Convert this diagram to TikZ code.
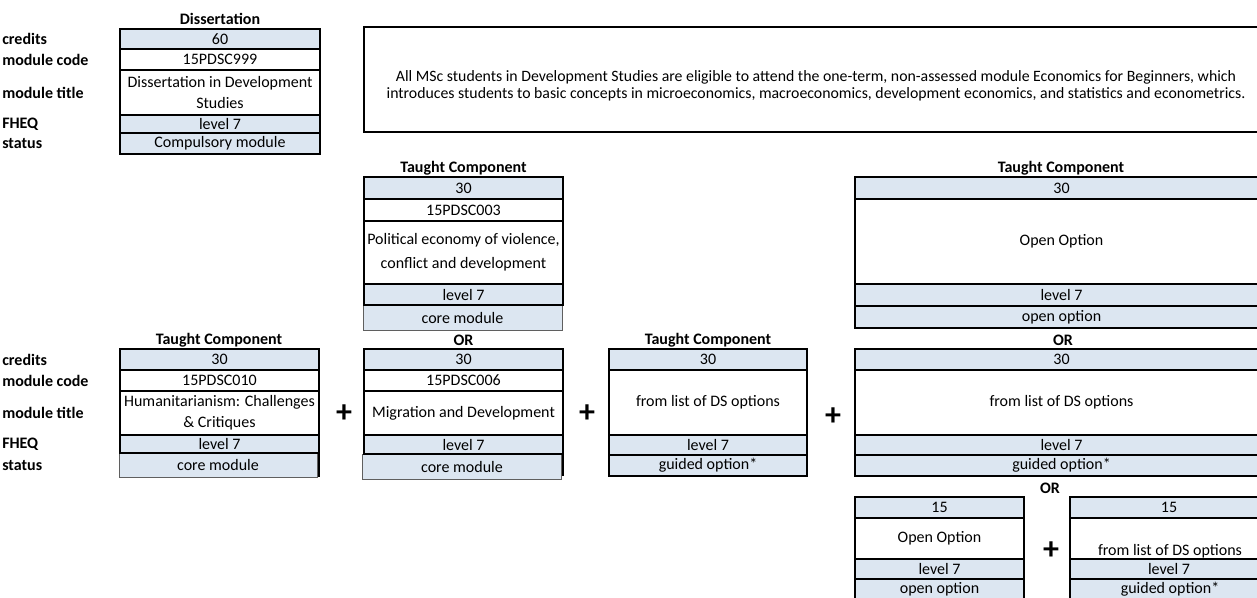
\documentclass[tikz,border=0pt]{standalone}
\usepackage{fontspec}
\setmainfont{Carlito}
\definecolor{lb}{RGB}{220,230,241}
\definecolor{thingray}{RGB}{95,95,95}
\newcommand\cellbox[7]{%
  \pgfmathsetmacro\cbx{(#2+#4)/2}%
  \pgfmathsetmacro\cby{(#3+#5)/2}%
  \pgfmathsetmacro\cbw{(#4-#2)*0.75}%
  \pgfmathsetmacro\cbh{(#5-#3)*0.75}%
  \node[#6, minimum width=\cbw pt, minimum height=\cbh pt] (#1) at (\cbx,\cby) {#7};}
\begin{document}
\begin{tikzpicture}[x=0.75pt,y=-0.75pt,
  every node/.style={font=\fontsize{12}{14}\selectfont},
  cellbase/.style={inner sep=0pt, align=center, draw=black, line width=1.5pt},
  bluecell/.style={cellbase, fill=lb},
  whitecell/.style={cellbase, fill=white},
  graycell/.style={inner sep=0pt, align=center, draw=thingray, line width=0.6pt, fill=lb},
  hdr/.style={font=\fontsize{12}{14}\selectfont\bfseries, inner sep=0pt},
  rowlbl/.style={font=\fontsize{12}{14}\selectfont\bfseries, anchor=west, inner sep=0pt},
  plus/.style={font=\fontsize{24}{24}\selectfont\bfseries, inner sep=0pt},
  txt/.style={inner sep=0pt, align=center}]
\useasboundingbox (0,0) rectangle (1257,597);

% ---------- Dissertation ----------
\node[hdr] (dT) at (220,19) {Dissertation};
\cellbox{d1}{120}{29}{320}{49}{bluecell}{60}
\cellbox{d2}{120}{49}{320}{70}{whitecell}{15PDSC999}
\cellbox{d3}{120}{70}{320}{115}{whitecell,font=\fontsize{12}{16.3}\selectfont}{Dissertation in Development\\Studies}
\cellbox{d4}{120}{115}{320}{133}{bluecell}{level 7}
\cellbox{d5}{120}{133}{320}{154}{bluecell}{Compulsory module}
\node[rowlbl] (l1) at (2,39) {credits};
\node[rowlbl] (l2) at (2,59.5) {module code};
\node[rowlbl] (l3) at (2,92.5) {module title};
\node[rowlbl] (l4) at (2,124) {FHEQ};
\node[rowlbl] (l5) at (2,143.5) {status};

% ---------- Note box ----------
\cellbox{note}{364}{27}{1268}{132}{whitecell}{}
\node[txt, font=\fontsize{11.85}{12.4}\selectfont] (notetxt) at (816,86) {All MSc students in Development Studies are eligible to attend the one-term, non-assessed module Economics for Beginners, which\\introduces students to basic concepts in microeconomics, macroeconomics, development economics, and statistics and econometrics.};

% ---------- Political economy block ----------
\node[hdr] (b1T) at (463.5,168) {Taught Component};
\cellbox{b1e}{363}{305}{562}{330}{graycell}{core module}
\cellbox{b1a}{364}{177}{563}{199}{bluecell}{30}
\cellbox{b1b}{364}{199}{563}{221}{whitecell}{15PDSC003}
\cellbox{b1c}{364}{221}{563}{284}{whitecell,font=\fontsize{12}{18}\selectfont}{Political economy of violence,\\conflict and development}
\cellbox{b1d}{364}{284}{563}{305}{bluecell}{level 7}

% ---------- Open option block ----------
\node[hdr] (d1T) at (1061,168) {Taught Component};
\cellbox{o1a}{855}{177}{1268}{199}{bluecell}{30}
\cellbox{o1b}{855}{199}{1268}{284}{whitecell}{Open Option}
\cellbox{o1c}{855}{284}{1268}{306}{bluecell}{level 7}
\cellbox{o1d}{855}{306}{1268}{328}{bluecell}{open option}

% ---------- Humanitarianism block ----------
\node[hdr] (a2T) at (219,340) {Taught Component};
\cellbox{a2e}{119}{453}{317}{477}{graycell}{core module}
\cellbox{a2a}{120}{349}{319}{370}{bluecell}{30}
\cellbox{a2b}{120}{370}{319}{391}{whitecell}{15PDSC010}
\cellbox{a2c}{120}{391}{319}{435}{whitecell,font=\fontsize{12}{16}\selectfont}{Humanitarianism: Challenges\\\& Critiques}
\cellbox{a2d}{120}{435}{319}{453}{bluecell}{level 7}
\coordinate (a2r1) at (319,453);
\coordinate (a2r2) at (319,477);
\draw[line width=1.5pt] (a2r1) -- (a2r2);
\node[rowlbl] (m1) at (2,359.5) {credits};
\node[rowlbl] (m2) at (2,380.5) {module code};
\node[rowlbl] (m3) at (2,413) {module title};
\node[rowlbl] (m4) at (2,444.5) {FHEQ};
\node[rowlbl] (m5) at (2,465.5) {status};

% ---------- Migration block ----------
\node[hdr] (b2T) at (463.5,340) {OR};
\cellbox{b2e}{362.5}{454}{561.5}{479}{graycell}{core module}
\cellbox{b2a}{364}{349}{563}{370}{bluecell}{30}
\cellbox{b2b}{364}{370}{563}{391}{whitecell}{15PDSC006}
\cellbox{b2c}{364}{391}{563}{435}{whitecell}{Migration and Development}
\cellbox{b2d}{364}{435}{563}{454}{bluecell}{level 7}
\coordinate (b2r1) at (563,454);
\coordinate (b2r2) at (563,476);
\draw[line width=1.5pt] (b2r1) -- (b2r2);

% ---------- Guided option block ----------
\node[hdr] (c2T) at (708,340) {Taught Component};
\cellbox{c2a}{609}{349}{807}{370}{bluecell}{30}
\cellbox{c2b}{609}{370}{807}{435}{whitecell}{from list of DS options}
\cellbox{c2c}{609}{435}{807}{455}{bluecell}{level 7}
\cellbox{c2d}{609}{455}{807}{476}{bluecell}{guided option*}

% ---------- Wide DS options block ----------
\node[hdr] (d2T) at (1063,340) {OR};
\cellbox{o2a}{855}{349}{1268}{370}{bluecell}{30}
\cellbox{o2b}{855}{370}{1268}{435}{whitecell}{from list of DS options}
\cellbox{o2c}{855}{435}{1268}{455}{bluecell}{level 7}
\cellbox{o2d}{855}{455}{1268}{476}{bluecell}{guided option*}

% ---------- Small blocks ----------
\node[hdr] (e0T) at (1050,488.5) {OR};
\cellbox{e1}{855}{497}{1024}{518}{bluecell}{15}
\cellbox{e2}{855}{518}{1024}{559}{whitecell}{Open Option}
\cellbox{e3}{855}{559}{1024}{579}{bluecell}{level 7}
\cellbox{e4}{855}{579}{1024}{602}{bluecell}{}
\node[txt] (e4t) at (939.5,589) {open option};
\cellbox{f1}{1070}{497}{1268}{518}{bluecell}{15}
\cellbox{f2}{1070}{518}{1268}{559}{whitecell}{}
\node[txt] (f2t) at (1170,551) {from list of DS options};
\cellbox{f3}{1070}{559}{1268}{579}{bluecell}{level 7}
\cellbox{f4}{1070}{579}{1268}{602}{bluecell}{}
\node[txt] (f4t) at (1170,589) {guided option*};

% ---------- Plus signs ----------
\node[plus] (p1) at (344,414) {+};
\node[plus] (p2) at (587,414) {+};
\node[plus] (p3) at (833,417) {+};
\node[plus] (p4) at (1051,551) {+};
\end{tikzpicture}
\end{document}
